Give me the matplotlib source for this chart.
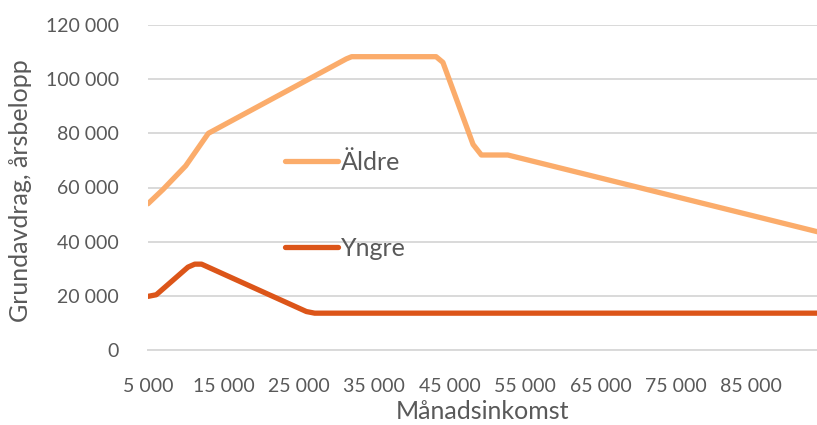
import matplotlib
matplotlib.use('Agg')
import matplotlib.pyplot as plt
from matplotlib.ticker import FuncFormatter, FixedLocator

plt.rcParams['font.family'] = ['Lato', 'DejaVu Sans']

# Månadsinkomst (kr) och grundavdrag (kr/år)
aldre_x = [5000, 7000, 10000, 10600, 13000, 31300, 32000, 43200, 44100, 48100, 49200, 52700, 94000]
aldre_y = [54000, 59300, 68000, 70400, 80000, 107500, 108300, 108300, 106200, 75900, 72000, 72000, 43500]

yngre_x = [5000, 6100, 10300, 11200, 12100, 26000, 27100, 94000]
yngre_y = [19800, 20400, 30600, 31700, 31700, 14200, 13600, 13600]

x_ticks = [5000, 15000, 25000, 35000, 45000, 55000, 65000, 75000, 85000]
y_ticks = [0, 20000, 40000, 60000, 80000, 100000, 120000]

txt = '#595959'
grid = '#d9d9d9'

fig = plt.figure(figsize=(8.17, 4.25), dpi=100)
ax = fig.add_axes([148/817, 1-350/425, 1-148/817, 325/425])

l1, = ax.plot(aldre_x, aldre_y, color='#fbac6b', lw=3.8, solid_joinstyle='round', solid_capstyle='round')
l2, = ax.plot(yngre_x, yngre_y, color='#dc5519', lw=3.8, solid_joinstyle='round', solid_capstyle='round')

ax.set_xlim(5000, 93700)
ax.set_ylim(0, 120000)
ax.xaxis.set_major_locator(FixedLocator(x_ticks))
ax.yaxis.set_major_locator(FixedLocator(y_ticks))
fmt = FuncFormatter(lambda v, p: f'{int(v):,}'.replace(',', ' '))
ax.xaxis.set_major_formatter(fmt)
ax.yaxis.set_major_formatter(fmt)

ax.grid(axis='y', color=grid, lw=1.4)
ax.set_axisbelow(True)
for s in ['top', 'right', 'left']:
    ax.spines[s].set_visible(False)
ax.spines['bottom'].set_color(grid)
ax.spines['bottom'].set_linewidth(1.4)
ax.tick_params(length=0, labelsize=14, labelcolor=txt)
ax.tick_params(axis='y', pad=21)
ax.tick_params(axis='x', pad=20)

ax.set_xlabel('Månadsinkomst', fontsize=18, color=txt, labelpad=4)
ax.set_ylabel('Grundavdrag, årsbelopp', fontsize=18, color=txt, labelpad=2)
ax.yaxis.set_label_coords(-116/669, 0.49)

leg1 = ax.legend([l1], ['Äldre'], loc='center left', bbox_to_anchor=(285/817, 1-162.7/425),
                 bbox_transform=fig.transFigure, frameon=False, fontsize=18, borderpad=0,
                 borderaxespad=0, handlelength=2.1, handletextpad=0.15, labelcolor=txt)
ax.add_artist(leg1)
ax.legend([l2], ['Yngre'], loc='center left', bbox_to_anchor=(285/817, 1-248.3/425),
          bbox_transform=fig.transFigure, frameon=False, fontsize=18, borderpad=0,
          borderaxespad=0, handlelength=2.1, handletextpad=0.15, labelcolor=txt)

fig.savefig('out.png', dpi=100)
